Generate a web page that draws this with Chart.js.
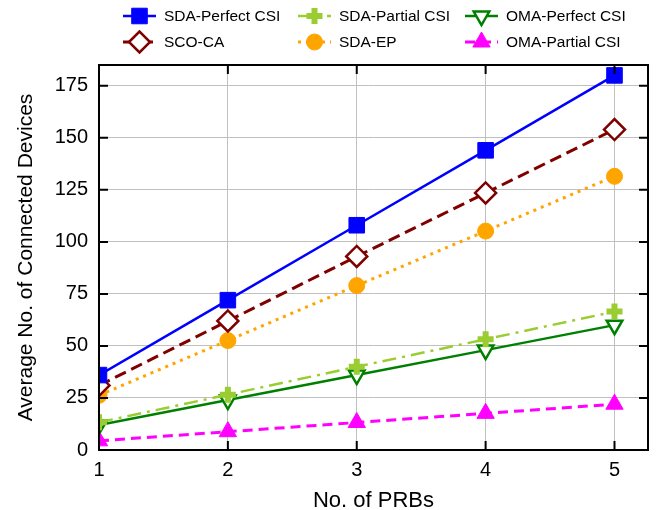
<!DOCTYPE html>
<html>
<head>
<meta charset="utf-8">
<script src="https://cdn.jsdelivr.net/npm/chart.js@4/dist/chart.umd.min.js"></script>
<style>
  html, body { margin: 0; padding: 0; background: #fff; }
  #wrap { width: 656px; height: 510px; position: relative; }
</style>
</head>
<body>
<div id="wrap"><canvas id="chart"></canvas></div>
<script>
// Data
const prbs = [1, 2, 3, 4, 5];
const xTicks = [1, 2, 3, 4, 5];
const yTicks = [0, 25, 50, 75, 100, 125, 150, 175];

const sdaPerfect = [36, 72, 108, 144, 180];
const sdaPartial = [13.3, 26.6, 40, 53.2, 66.5];
const omaPerfect = [12, 24, 36, 48, 60];
const scoCa = [31, 62, 93, 123.5, 154];
const sdaEp = [26.3, 52.6, 79, 105.2, 131.5];
const omaPartial = [4.4, 8.8, 13.2, 17.6, 22];

const FONT = "'Liberation Sans', Arial, Helvetica, sans-serif";

function series(label, values, color, style) {
    return Object.assign({
        label: label,
        data: values.map((v, i) => ({ x: prbs[i], y: v })),
        borderColor: color,
        backgroundColor: color,
        pointBorderColor: color,
        pointBackgroundColor: color,
        borderWidth: 2.5,
        pointBorderWidth: 1,
        pointRadius: 8,
        tension: 0,
        clip: 0 // markers are cut at the plot frame, as in the original
    }, style);
}

const datasets = [
    series('SDA-Perfect CSI', sdaPerfect, '#0000ff', { pointStyle: 'rect', pointRadius: 11 }),
    series('SDA-Partial CSI', sdaPartial, '#9acd32', { borderDash: [14, 6, 3, 6], pointStyle: 'cross', pointRadius: 8, pointBorderWidth: 6 }),
    series('OMA-Perfect CSI', omaPerfect, '#008000', { pointStyle: 'triangle', rotation: 180, pointRadius: 9, pointBorderWidth: 2.5, pointBackgroundColor: '#ffffff' }),
    series('SCO-CA', scoCa, '#800000', { borderDash: [12, 6], borderWidth: 3, pointStyle: 'rectRot', pointRadius: 10.5, pointBorderWidth: 2.5, pointBackgroundColor: '#ffffff' }),
    series('SDA-EP', sdaEp, '#ffa500', { borderDash: [3, 5], borderWidth: 3, pointStyle: 'circle', pointRadius: 8 }),
    series('OMA-Partial CSI', omaPartial, '#ff00ff', { borderDash: [10, 6], borderWidth: 3, pointStyle: 'triangle', pointRadius: 10 })
];

// Legend drawn in three fixed columns, like the gnuplot key
const legendCols = [123, 298, 465];
const legendRows = [16, 42];

const keyPlugin = {
    id: 'key',
    afterDraw(chart) {
        const ctx = chart.ctx;
        chart.data.datasets.forEach((ds, i) => {
            const x0 = legendCols[i % 3];
            const y = legendRows[Math.floor(i / 3)];
            ctx.save();
            ctx.strokeStyle = ds.borderColor;
            ctx.lineWidth = ds.borderWidth;
            ctx.setLineDash(ds.borderDash || []);
            ctx.beginPath();
            ctx.moveTo(x0, y);
            ctx.lineTo(x0 + 33, y);
            ctx.stroke();
            ctx.setLineDash([]);
            ctx.strokeStyle = ds.pointBorderColor;
            ctx.fillStyle = ds.pointBackgroundColor;
            ctx.lineWidth = ds.pointBorderWidth;
            Chart.helpers.drawPoint(ctx, {
                pointStyle: ds.pointStyle,
                radius: ds.pointRadius,
                rotation: ds.rotation || 0,
                borderWidth: ds.pointBorderWidth
            }, x0 + 16.5, y);
            ctx.fillStyle = '#000';
            ctx.font = '15.5px ' + FONT;
            ctx.textBaseline = 'middle';
            ctx.fillText(ds.label, x0 + 41, y + 1);
            ctx.restore();
        });
    }
};

// Black frame with inward tick marks on all four sides
const framePlugin = {
    id: 'frame',
    afterDatasetsDraw(chart) {
        const { ctx, chartArea: a, scales } = chart;
        const len = 9;
        ctx.save();
        ctx.strokeStyle = '#000';
        ctx.lineWidth = 2;
        ctx.beginPath();
        scales.x.ticks.forEach(t => {
            const px = scales.x.getPixelForValue(t.value);
            ctx.moveTo(px, a.bottom); ctx.lineTo(px, a.bottom - len);
            ctx.moveTo(px, a.top); ctx.lineTo(px, a.top + len);
        });
        scales.y.ticks.forEach(t => {
            const py = scales.y.getPixelForValue(t.value);
            ctx.moveTo(a.left, py); ctx.lineTo(a.left + len, py);
            ctx.moveTo(a.right, py); ctx.lineTo(a.right - len, py);
        });
        ctx.stroke();
        ctx.strokeRect(a.left, a.top, a.right - a.left, a.bottom - a.top);
        ctx.restore();
    }
};

new Chart(document.getElementById('chart'), {
    type: 'line',
    data: { datasets: datasets },
    plugins: [framePlugin, keyPlugin],
    options: {
        responsive: true,
        maintainAspectRatio: false,
        animation: false,
        layout: { autoPadding: false, padding: { top: 65, right: 8, left: 0, bottom: 0 } },
        plugins: {
            legend: { display: false },
            tooltip: { enabled: false }
        },
        scales: {
            x: {
                type: 'linear',
                min: 1,
                max: 5.26,
                afterBuildTicks: s => { s.ticks = xTicks.map(v => ({ value: v })); },
                afterFit: s => { s.height = 60; },
                grid: { color: '#c0c0c0', lineWidth: 1, drawTicks: false },
                border: { display: false },
                ticks: { color: '#000', font: { family: FONT, size: 20 }, padding: 8, maxRotation: 0 },
                title: { display: true, text: 'No. of PRBs', color: '#000', font: { family: FONT, size: 22 }, padding: { top: 0, bottom: -4 } }
            },
            y: {
                min: 0,
                max: 185,
                afterBuildTicks: s => { s.ticks = yTicks.map(v => ({ value: v })); },
                afterFit: s => { s.width = 99; },
                grid: { color: '#c0c0c0', lineWidth: 1, drawTicks: false },
                border: { display: false },
                ticks: { color: '#000', font: { family: FONT, size: 20 }, padding: 11 },
                title: { display: true, text: 'Average No. of Connected Devices', color: '#000', font: { family: FONT, size: 21 }, padding: { top: 14, bottom: 0 } }
            }
        }
    }
});
</script>
</body>
</html>
